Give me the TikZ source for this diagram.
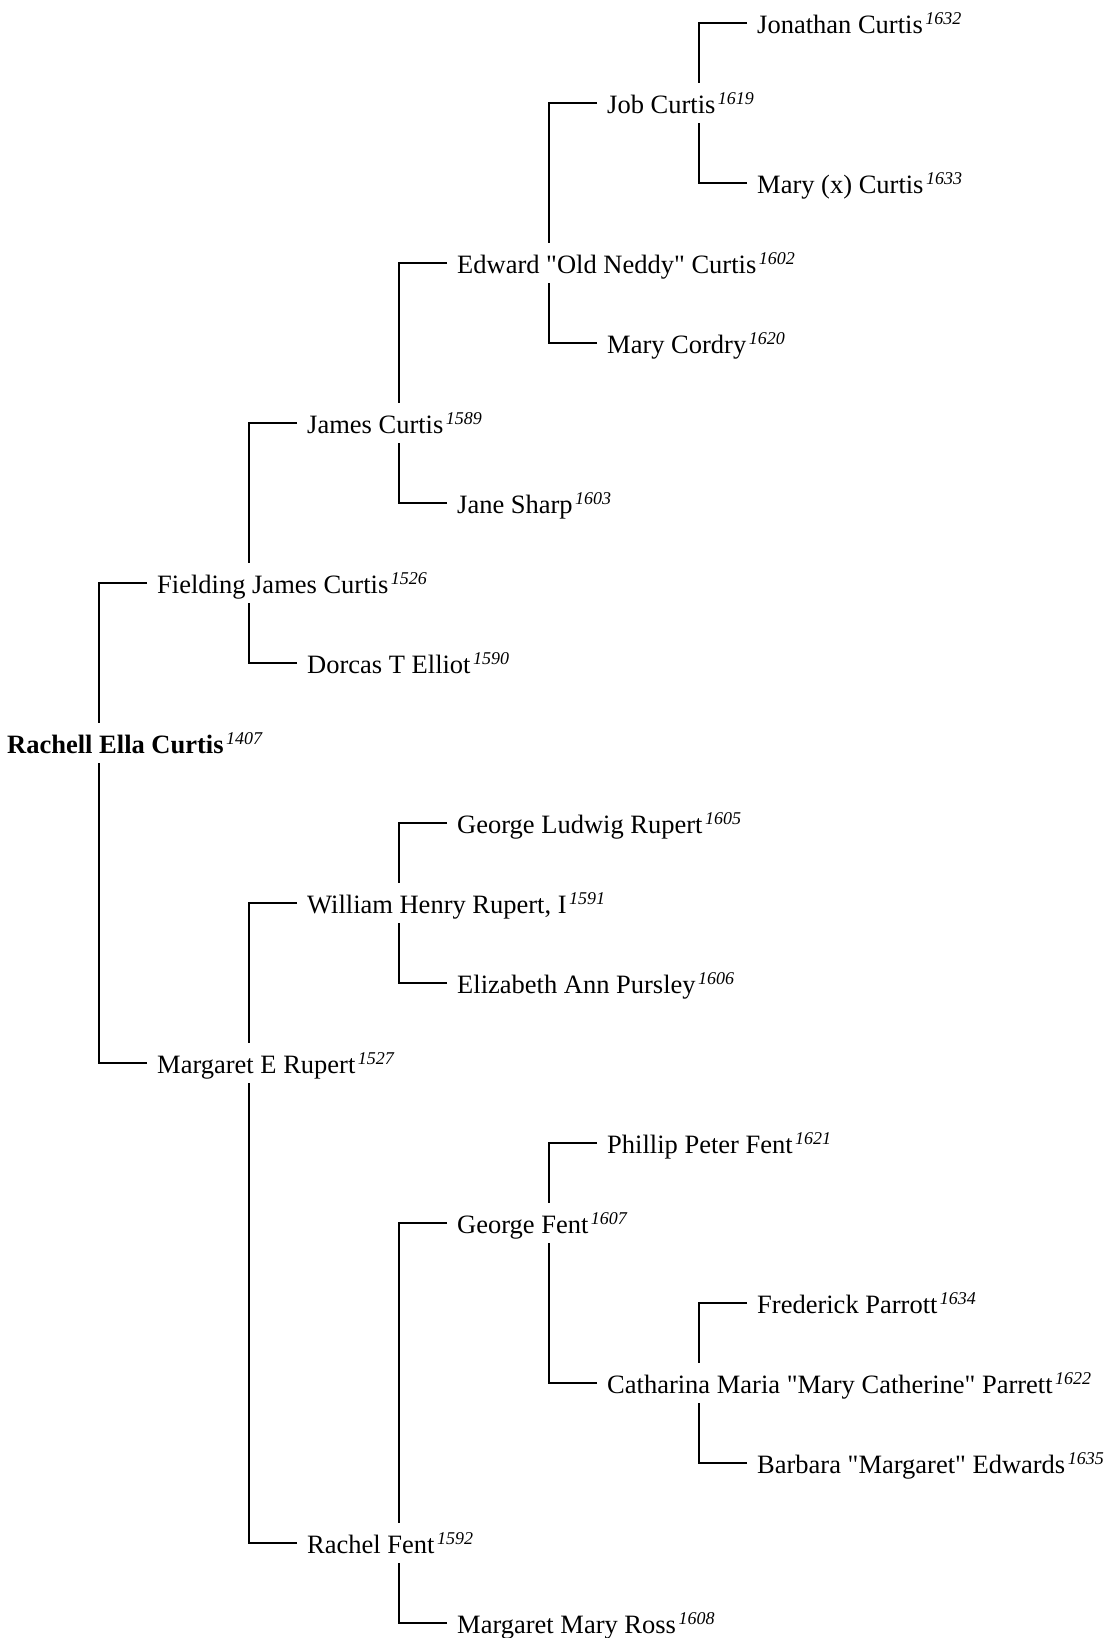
\documentclass[tikz,border=0pt]{standalone}
\usepackage{fontspec}
\setmainfont{Liberation Serif}[Ligatures=TeXOff]
\newcommand\yr[1]{\hspace{2.5pt}\raisebox{9pt}{\fontsize{18pt}{18pt}\selectfont\itshape #1}}
\begin{document}
\begin{tikzpicture}[x=1pt,y=-1pt,%
            person/.style={anchor=west, inner xsep=0pt, inner ysep=10pt,
                text height=20pt, text depth=0pt,
                font=\fontsize{26.5pt}{30pt}\selectfont},
            link/.style={line width=1.1pt}
    ]
    \useasboundingbox (0,0) rectangle (1112,1638);

    % name / generation / row / text
    \foreach \n/\g/\r/\t in 
        {jonathan/5/0/{Jonathan Curtis\yr{1632}},
         job/4/1/{Job Curtis\yr{1619}},
         maryx/5/2/{Mary (x) Curtis\yr{1633}},
         edward/3/3/{Edward "Old Neddy" Curtis\yr{1602}},
         cordry/4/4/{Mary Cordry\yr{1620}},
         james/2/5/{James Curtis\yr{1589}},
         jane/3/6/{Jane Sharp\yr{1603}},
         fielding/1/7/{Fielding James Curtis\yr{1526}},
         dorcas/2/8/{Dorcas T Elliot\yr{1590}},
         rachell/0/9/{\textbf{Rachell Ella Curtis}\yr{1407}},
         georgel/3/10/{George Ludwig Rupert\yr{1605}},
         william/2/11/{William Henry Rupert, I\yr{1591}},
         elizabeth/3/12/{Elizabeth Ann Pursley\yr{1606}},
         margaret/1/13/{Margaret E Rupert\yr{1527}},
         phillip/4/14/{Phillip Peter Fent\yr{1621}},
         georgef/3/15/{George Fent\yr{1607}},
         frederick/5/16/{Frederick Parrott\yr{1634}},
         catharina/4/17/{Catharina Maria "Mary Catherine" Parrett\yr{1622}},
         barbara/5/18/{Barbara "Margaret" Edwards\yr{1635}},
         rachel/2/19/{Rachel Fent\yr{1592}},
         ross/3/20/{Margaret Mary Ross\yr{1608}}}
        \node [person] (\n) at (7+150*\g, 23+80*\r) {\t};

    % child / father / mother
    \foreach \c/\f/\m in 
        {rachell/fielding/margaret, fielding/james/dorcas,
         james/edward/jane, edward/job/cordry, job/jonathan/maryx,
         margaret/william/rachel, william/georgel/elizabeth,
         rachel/georgef/ross, georgef/phillip/catharina,
         catharina/frederick/barbara}
    {
        \draw [link] ([xshift=-10pt]\f.west) -| ([xshift=92pt]\c.north west);
        \draw [link] ([xshift=-10pt]\m.west) -| ([xshift=92pt]\c.south west);
    }
\end{tikzpicture}
\end{document}
